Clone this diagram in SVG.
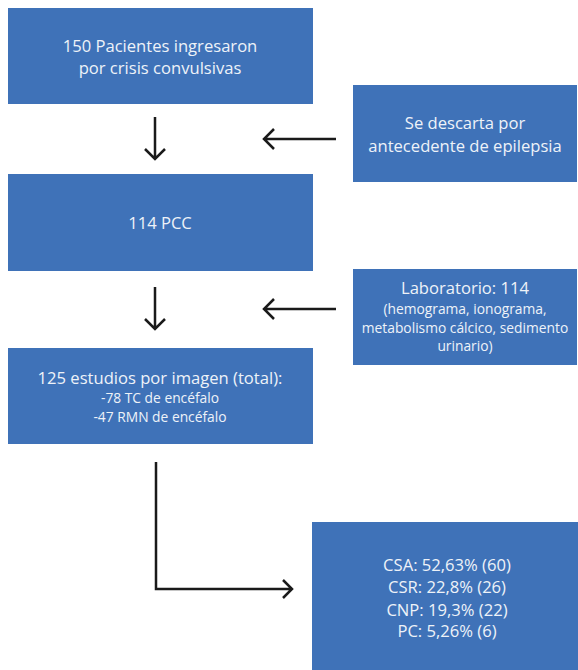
<svg xmlns="http://www.w3.org/2000/svg" width="578" height="670" viewBox="0 0 578 670">
<style>
.box{fill:#3F72B8}
.t{fill:#EEF2F8;font-family:"Open Sans","Noto Sans",sans-serif;text-anchor:middle}
.l{font-size:16.6px}
.s{font-size:13.8px}
.c{fill:none;stroke:#1a1a1a;stroke-width:2.5;stroke-linecap:butt}
</style>
<rect width="578" height="670" fill="#fff"/>
<g id="n1"><rect class="box" x="8" y="8" width="305" height="96"/>
<text class="t l" x="160" y="52">150 Pacientes ingresaron</text>
<text class="t l" x="160" y="74">por crisis convulsivas</text></g>
<g id="n2"><rect class="box" x="353" y="85" width="224" height="97"/>
<text class="t l" x="465" y="129">Se descarta por</text>
<text class="t l" x="465" y="152">antecedente de epilepsia</text></g>
<g id="n3"><rect class="box" x="8" y="174" width="305" height="97"/>
<text class="t l" x="160" y="229">114 PCC</text></g>
<g id="n4"><rect class="box" x="353" y="269" width="224" height="96"/>
<text class="t l" x="465" y="294">Laboratorio: 114</text>
<text class="t s" x="465" y="314">(hemograma, ionograma,</text>
<text class="t s" x="465" y="333">metabolismo cálcico, sedimento</text>
<text class="t s" x="465" y="351">urinario)</text></g>
<g id="n5"><rect class="box" x="8" y="348" width="305" height="96"/>
<text class="t l" x="160" y="384">125 estudios por imagen (total):</text>
<text class="t s" x="160" y="403">-78 TC de encéfalo</text>
<text class="t s" x="160" y="422">-47 RMN de encéfalo</text></g>
<g id="n6"><rect class="box" x="312" y="522" width="266" height="148"/>
<text class="t l" x="447" y="571">CSA: 52,63% (60)</text>
<text class="t l" x="447" y="593">CSR: 22,8% (26)</text>
<text class="t l" x="447" y="616">CNP: 19,3% (22)</text>
<text class="t l" x="447" y="637">PC: 5,26% (6)</text></g>
<g id="connectors">
<path class="c" d="M155 117V159M145 149L155 159L165 149"/>
<path class="c" d="M155 287V329M145 319L155 329L165 319"/>
<path class="c" d="M336 139H264M274 129L264 139L274 149"/>
<path class="c" d="M336 309H264M274 299L264 309L274 319"/>
<path class="c" d="M156 462V589H292M283 580L292 589L283 598"/>
</g>
</svg>
